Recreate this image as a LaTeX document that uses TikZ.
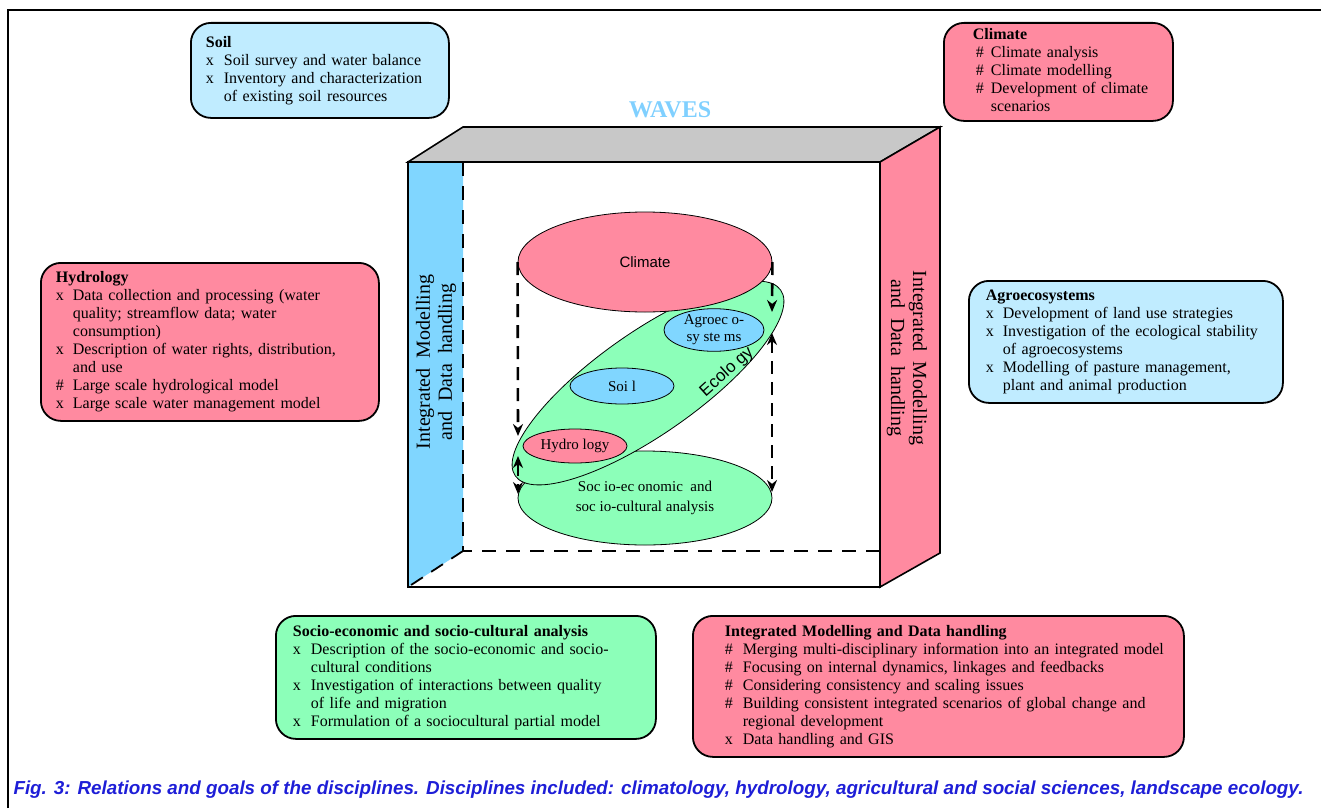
\documentclass[tikz,border=0pt]{standalone}
\usepackage{fontspec}
\setmainfont{Liberation Serif}
\setsansfont{Liberation Sans}
\usetikzlibrary{shapes.geometric,arrows.meta}
\definecolor{rosefill}{RGB}{255,138,160}
\definecolor{paleblue}{RGB}{192,236,255}
\definecolor{skyfill}{RGB}{128,214,255}
\definecolor{mintfill}{RGB}{140,255,185}
\definecolor{greyfill}{RGB}{200,200,200}
\definecolor{wavesblue}{RGB}{128,208,255}
\definecolor{capblue}{RGB}{30,30,215}
\tikzset{
  goalbox/.style={draw,line width=1.8pt,rounded corners=20pt,anchor=north west,inner xsep=0pt,inner ysep=4pt,
    align=left,text width=#1,font=\fontsize{16}{18}\selectfont},
  disc/.style={ellipse,draw,line width=0.8pt,inner sep=0pt,align=center,font=\fontsize{15}{18}\selectfont},
  flow/.style={line width=2.6pt,dash pattern=on 13pt off 8pt,-{Stealth[length=12pt,width=10pt]}},
  flowboth/.style={flow,{Stealth[length=12pt,width=10pt]}-{Stealth[length=12pt,width=10pt]}},
  cubeedge/.style={line width=1.6pt},
  hidden/.style={line width=1.8pt,dash pattern=on 14pt off 10pt},
  facelabel/.style={align=center,font=\fontsize{20}{22}\selectfont}
}
\begin{document}
\begin{tikzpicture}[x=1pt,y=-1pt]
\useasboundingbox (0,0) rectangle (1321,808);
% frame
\draw[line width=2.4pt] (8,808) -- (8,10) -- (1321,10);

% cube
\coordinate (fTL) at (408,162); \coordinate (fTR) at (880,162);
\coordinate (fBR) at (880,587); \coordinate (fBL) at (408,587);
\coordinate (bTL) at (463,127); \coordinate (bTR) at (940,127); \coordinate (bBR) at (940,553);
\coordinate (iTL) at (463,162); \coordinate (iBL) at (463,551); \coordinate (iBR) at (880,551);
\filldraw[greyfill,draw=black,cubeedge] (fTL) -- (bTL) -- (bTR) -- (fTR) -- cycle;
\filldraw[rosefill,draw=black,cubeedge] (fTR) -- (bTR) -- (bBR) -- (fBR) -- cycle;
\fill[skyfill] (fTL) -- (iTL) -- (iBL) -- (fBL) -- cycle;
\draw[cubeedge] (fTL) rectangle (fBR);
\draw[hidden] (iTL) -- (iBL) -- (iBR);
\draw[hidden] (iBL) -- (fBL);
\node[facelabel,rotate=90] (leftlab) at (436,362) {Integrated\ \ Modelling\\and\ \ Data\ \ handling};
\node[facelabel,rotate=-90] (rightlab) at (907,358) {Integrated\ \ Modelling\\and\ \ Data\ \ handling};
\node[font=\bfseries\fontsize{24}{28}\selectfont,text=wavesblue] (waves) at (670,110) {WAVES};

% disciplines
\node[disc,fill=mintfill,minimum width=254pt,minimum height=94pt,font=\fontsize{15}{20}\selectfont] (socio) at (645,498)
  {Soc io-ec onomic\ \ and\\soc io-cultural analysis};
\node[disc,fill=mintfill,rotate=35,minimum width=324pt,minimum height=102pt] (eco) at (648,383) {};
\node[disc,fill=rosefill,minimum width=254pt,minimum height=100pt,font=\sffamily\fontsize{15}{18}\selectfont] (clim) at (645,262) {Climate};
\node[disc,fill=skyfill,minimum width=100pt,minimum height=38pt,font=\fontsize{15}{17}\selectfont] (agro) at (714,330) {Agroec o-\\sy ste ms};
\node[disc,fill=skyfill,minimum width=104pt,minimum height=36pt] (soil) at (622,386) {Soi l};
\node[disc,fill=rosefill,minimum width=104pt,minimum height=34pt] (hydro) at (575,446) {Hydro logy};
\node[rotate=42,font=\sffamily\fontsize{17}{20}\selectfont] (ecolab) at (727,372) {Ecolo gy};

% links
\coordinate (ecoL) at (518,436); \coordinate (ecoR) at (772,312);
\coordinate (hydL) at (518,456); \coordinate (socL) at (518,494);
\coordinate (agrR) at (772,333); \coordinate (socR) at (772,492);
\draw[flow] (clim.west) -- (ecoL);
\draw[flow] (clim.east) -- (ecoR);
\draw[flowboth] (hydL) -- (socL);
\draw[flowboth] (agrR) -- (socR);

% goal boxes
\node[goalbox=258pt,fill=paleblue,minimum height=95pt] (soilbox) at (190,22) {%
\begin{tabular}{@{\hspace{15pt}}p{10pt}@{\hspace{8pt}}l@{}}
\multicolumn{2}{@{\hspace{15pt}}l}{\textbf{Soil}}\\
x & Soil survey and water balance\\
x & Inventory and characterization\\
  & of existing soil resources
\end{tabular}};
\node[goalbox=229pt,fill=rosefill,minimum height=96pt] (climbox) at (943,22) {%
\begin{tabular}{@{\hspace{32pt}}p{8pt}@{\hspace{7pt}}l@{}}
\multicolumn{2}{@{\hspace{29pt}}l}{\textbf{Climate}}\\
\# & Climate analysis\\
\# & Climate modelling\\
\# & Development of climate\\
   & scenarios
\end{tabular}};
\node[goalbox=338pt,fill=rosefill,minimum height=158pt] (hydrobox) at (40,262) {%
\begin{tabular}{@{\hspace{15pt}}p{9pt}@{\hspace{8pt}}l@{}}
\multicolumn{2}{@{\hspace{15pt}}l}{\textbf{Hydrology}}\\
x & Data collection and processing (water\\
  & quality; streamflow data; water\\
  & consumption)\\
x & Description of water rights, distribution,\\
  & and use\\
\# & Large scale hydrological model\\
x & Large scale water management model
\end{tabular}};
\node[goalbox=314pt,fill=paleblue,minimum height=122pt] (agrobox) at (968,280) {%
\begin{tabular}{@{\hspace{17pt}}p{9pt}@{\hspace{8pt}}l@{}}
\multicolumn{2}{@{\hspace{17pt}}l}{\textbf{Agroecosystems}}\\
x & Development of land use strategies\\
x & Investigation of the ecological stability\\
  & of agroecosystems\\
x & Modelling of pasture management,\\
  & plant and animal production
\end{tabular}};
\node[goalbox=380pt,fill=mintfill,minimum height=123pt] (sociobox) at (275,615) {%
\begin{tabular}{@{\hspace{17pt}}p{10pt}@{\hspace{8pt}}l@{}}
\multicolumn{2}{@{\hspace{17pt}}l}{\textbf{Socio-economic and socio-cultural analysis}}\\
x & Description of the socio-economic and socio-\\
  & cultural conditions\\
x & Investigation of interactions between quality\\
  & of life and migration\\
x & Formulation of a sociocultural partial model
\end{tabular}};
\node[goalbox=491pt,fill=rosefill,minimum height=141pt] (imdbox) at (692,615) {%
\begin{tabular}{@{\hspace{32pt}}p{10pt}@{\hspace{8pt}}l@{}}
\multicolumn{2}{@{\hspace{32pt}}l}{\textbf{Integrated Modelling and Data handling}}\\
\# & Merging multi-disciplinary information into an integrated model\\
\# & Focusing on internal dynamics, linkages and feedbacks\\
\# & Considering consistency and scaling issues\\
\# & Building consistent integrated scenarios of global change and\\
   & regional development\\
x & Data handling and GIS
\end{tabular}};

% caption
\node[anchor=west,font=\sffamily\bfseries\itshape\fontsize{18.8}{20}\selectfont,text=capblue] (caption) at (10,790)
  {Fig. 3: Relations and goals of the disciplines. Disciplines included: climatology, hydrology, agricultural and social sciences, landscape ecology.};
\end{tikzpicture}
\end{document}
